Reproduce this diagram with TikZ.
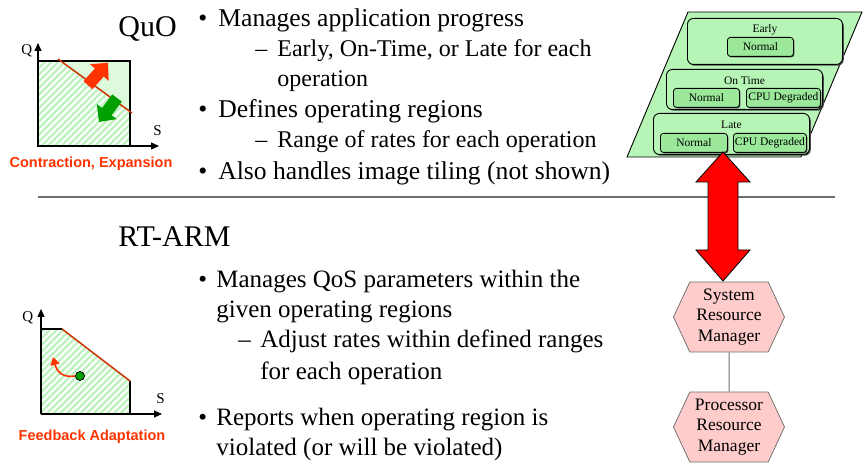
\documentclass[tikz,border=0pt]{standalone}
\usepackage{fontspec}
\setmainfont{Liberation Serif}
\newfontfamily\labelfont{Liberation Sans}
\usetikzlibrary{arrows.meta,shapes.symbols,shadows}

\definecolor{paleGreen}{RGB}{221,250,221}
\definecolor{hatchGreen}{RGB}{190,242,190}
\definecolor{lineRed}{RGB}{204,51,0}
\definecolor{labelRed}{RGB}{255,51,0}
\definecolor{arrowGreen}{RGB}{0,160,0}
\definecolor{paraGreen}{RGB}{182,245,182}
\definecolor{cellGreen}{RGB}{155,232,155}
\definecolor{hexPink}{RGB}{255,204,204}
\definecolor{ruleGray}{RGB}{110,110,110}

\tikzset{every picture/.style={line width=0.75pt}}
\tikzset{
  bodytext/.style={font=\fontsize{25}{30}\selectfont, inner sep=0pt, anchor=base west},
  bigtext/.style={font=\fontsize{25.6}{30}\selectfont, inner sep=0pt, anchor=base west},
  subtext/.style={font=\fontsize{24}{30}\selectfont, inner sep=0pt, anchor=base west},
  title/.style={font=\fontsize{30}{36}\selectfont, inner sep=0pt, anchor=base west},
  axislabel/.style={font=\fontsize{15}{17}\selectfont, inner sep=0pt, anchor=base west},
  caption/.style={font=\labelfont\bfseries\fontsize{14.5}{17}\selectfont, text=labelRed, inner sep=0pt, anchor=base},
  axis/.style={line width=1.1pt, -{Triangle[length=8pt,width=7pt]}},
  stripe/.style={hatchGreen, line width=2.4pt},
  modebox/.style={draw=black, fill=paraGreen, rounded corners=6pt, line width=0.9pt, inner sep=0pt, anchor=north west,
    drop shadow={shadow xshift=1.3pt, shadow yshift=-1.3pt, fill=black!70, opacity=1}},
  cellbox/.style={draw=black, fill=cellGreen, rounded corners=3pt, line width=0.8pt, inner sep=0pt, anchor=north west,
    minimum height=19pt, font=\fontsize{11.5}{13}\selectfont,
    drop shadow={shadow xshift=1pt, shadow yshift=-1pt, fill=black!70, opacity=1}},
  celltext/.style={font=\fontsize{11.5}{13}\selectfont, inner sep=0pt},
  hexbox/.style={signal, signal to=east and west, signal pointer angle=130, draw=ruleGray, fill=hexPink,
    minimum width=111pt, minimum height=70pt, inner sep=0pt, align=center, font=\fontsize{17.5}{20.5}\selectfont}
}

\begin{document}
\begin{tikzpicture}[x=1pt,y=1pt,yscale=-1,xscale=1]
\useasboundingbox (0,0) rectangle (863,465);

%Shape: QuO chart, hatched region
\begin{scope}
\clip (38,61) rectangle (130,146);
\foreach \k in {-70,-63.3,...,135} \draw[stripe] (\k,150) -- ++(100,-100);
\end{scope}
\fill[paleGreen] (58,61) -- (130,61) -- (130,112) -- cycle;
\draw[line width=1.1pt] (38,61) rectangle (130,146);
%Straight Lines
\draw[lineRed, line width=1.5pt] (58,59) -- (132,113);
%Axes
\draw[axis] (38,146) -- (38,43);
\draw[axis] (38,146) -- (159,146);
%Shape: Fat arrows
\fill[labelRed, shift={(98,74)}, rotate=-48] (-15,-6) -- (2,-6) -- (2,-12.5) -- (15,0) -- (2,12.5) -- (2,6) -- (-15,6) -- cycle;
\fill[arrowGreen, shift={(108,110)}, rotate=127] (-15,-6) -- (2,-6) -- (2,-12.5) -- (15,0) -- (2,12.5) -- (2,6) -- (-15,6) -- cycle;

% Text Node
\node[axislabel] (qtop) at (21,55) {Q};
% Text Node
\node[axislabel] (stop) at (153,136) {S};
% Text Node
\node[caption] (contraction) at (91,168) {Contraction, Expansion};

%Shape: RT-ARM chart, hatched region
\begin{scope}
\clip (41,329) -- (62,329) -- (130,381) -- (130,414) -- (41,414) -- cycle;
\foreach \k in {-65,-58.3,...,135} \draw[stripe] (\k,418) -- ++(100,-100);
\end{scope}
\draw[line width=1.1pt] (62,329) -- (41,329);
\draw[line width=1.1pt] (130,381) -- (130,414);
\draw[lineRed, line width=1.5pt] (62,329) -- (130,381);
%Axes
\draw[axis] (41,414) -- (41,309);
\draw[axis] (41,414) -- (162,414);
\node[circle, fill=arrowGreen, draw=black, minimum size=9pt, inner sep=0pt] (dot) at (80,376) {};
\coordinate (turn) at (53,357);
\draw[labelRed, line width=1.6pt, -{Triangle[length=8pt,width=9pt]}] (dot.west) .. controls (63,378) and (57,372) .. (turn);

% Text Node
\node[axislabel] (qbot) at (22,322) {Q};
% Text Node
\node[axislabel] (sbot) at (156,403) {S};
% Text Node
\node[caption] (feedback) at (92,440) {Feedback Adaptation};

%Straight Lines
\draw[ruleGray, line width=1.2pt] (38,197) -- (835,197);

% Text Node
\node[title] (quo) at (118,37) {QuO};
\node[bigtext] (qb1) at (198,27) {•};
\node[bigtext] (qt1) at (218,27) {Manages application progress};
\node[subtext] (qd1) at (255,57) {–};
\node[subtext] (qt2) at (277,57) {Early, On-Time, or Late for each};
\node[subtext] (qt3) at (277,87) {operation};
\node[bigtext] (qb2) at (198,118) {•};
\node[bigtext] (qt4) at (218,118) {Defines operating regions};
\node[subtext] (qd2) at (255,148) {–};
\node[subtext] (qt5) at (277,148) {Range of rates for each operation};
\node[bigtext] (qb3) at (198,180) {•};
\node[bigtext] (qt6) at (218,180) {Also handles image tiling (not shown)};

% Text Node
\node[title] (rtarm) at (118,247) {RT-ARM};
\node[bodytext] (rb1) at (198,288) {•};
\node[bodytext] (rt1) at (216,288) {Manages QoS parameters within the};
\node[bodytext] (rt2) at (216,318) {given operating regions};
\node[bodytext] (rd1) at (238,348) {–};
\node[bodytext] (rt3) at (260,348) {Adjust rates within defined ranges};
\node[bodytext] (rt4) at (260,379) {for each operation};
\node[bodytext] (rb2) at (198,425) {•};
\node[bodytext] (rt5) at (216,425) {Reports when operating region is};
\node[bodytext] (rt6) at (216,455) {violated (or will be violated)};

%Shape: Parallelogram
\draw[fill=paraGreen, line width=0.9pt] (688,12) -- (862,12) -- (801,157) -- (627,157) -- cycle;

\node[modebox, minimum width=155pt, minimum height=46pt] (early) at (687,18) {};
\node[celltext] (earlylbl) at ([yshift=12pt]early.north) {Early};
\node[cellbox, minimum width=66pt] (earlynormal) at (727,37) {Normal};

\node[modebox, minimum width=156pt, minimum height=40pt] (ontime) at (666,69) {};
\node[celltext] (ontimelbl) at ([yshift=12pt]ontime.north) {On Time};
\node[cellbox, minimum width=66pt] (ontimenormal) at (673,88) {Normal};
\node[cellbox, minimum width=74pt] (ontimecpu) at (746,88) {CPU Degraded};

\node[modebox, minimum width=156pt, minimum height=41pt] (late) at (653,113) {};
\node[celltext] (latelbl) at ([yshift=12pt]late.north) {Late};
\node[cellbox, minimum width=67pt] (latenormal) at (660,133) {Normal};
\node[cellbox, minimum width=73pt] (latecpu) at (733,133) {CPU Degraded};

%Shape: Hexagons
\node[hexbox] (srm) at (729,317) {System\\Resource\\Manager};
\node[hexbox] (prm) at (729,427) {Processor\\Resource\\Manager};
\draw[ruleGray, line width=1pt] (srm) -- (prm);

%Shape: Double Arrow
\draw[fill=red, line width=0.8pt, line join=miter] (723,152) -- (750,182) -- (738,182) -- (738,250) -- (750,250) -- (723,281)
  -- (696,250) -- (708,250) -- (708,182) -- (696,182) -- cycle;

\end{tikzpicture}
\end{document}
